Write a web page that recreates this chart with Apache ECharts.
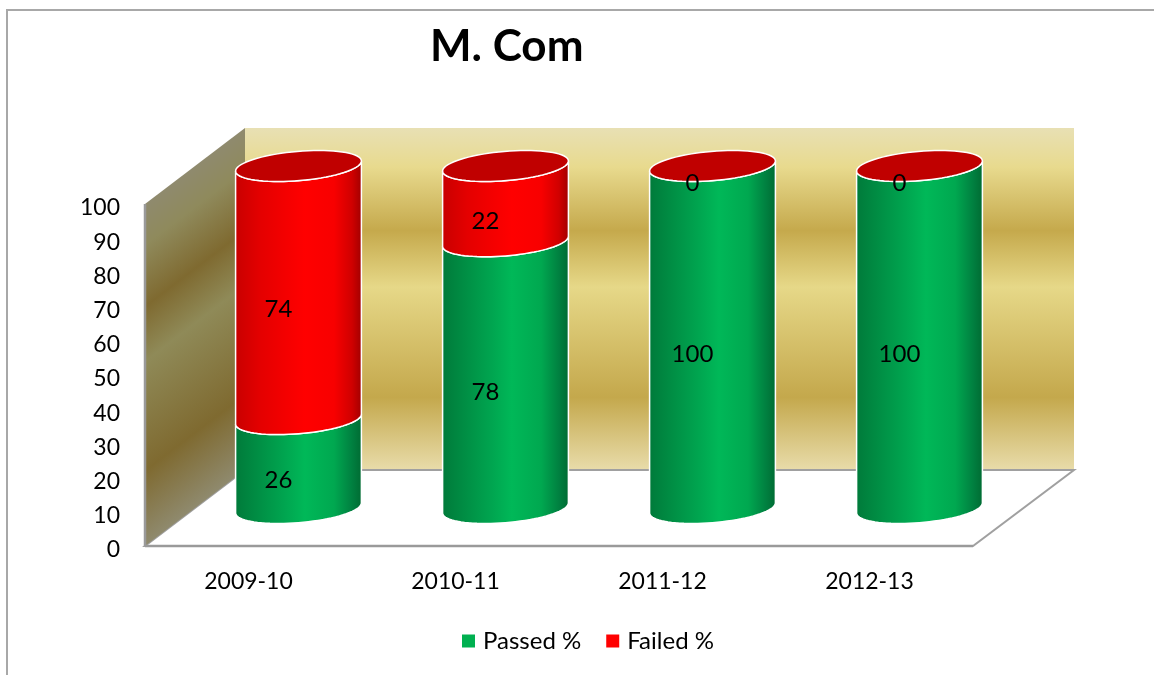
<!DOCTYPE html>
<html>
<head>
<meta charset="utf-8">
<style>html,body{margin:0;padding:0;background:#fff}#c{width:1154px;height:675px}</style>
<script src="https://cdn.jsdelivr.net/npm/echarts@6/dist/echarts.min.js"></script>
</head>
<body>
<div id="c"></div>
<script>
var categories = ['2009-10', '2010-11', '2011-12', '2012-13'];
var passed = [26, 78, 100, 100];
var failed = [74, 22, 0, 0];
var FONT = 'Lato';
var DEPTH = [100, -76];
var R = 59.5, DX = 20.4, DY = 15.5;

function frontArc(cx, cy) {
  var t0 = Math.atan2(DX, R), pts = [];
  for (var i = 0; i <= 40; i++) {
    var t = t0 + Math.PI + Math.PI * i / 40;
    pts.push([cx + R * Math.cos(t) + DX * Math.sin(t), cy - DY * Math.sin(t)]);
  }
  return pts; // left to right, through the front
}
function fullEllipse(cx, cy) {
  var pts = [];
  for (var i = 0; i < 72; i++) {
    var t = i / 72 * Math.PI * 2;
    pts.push([cx + R * Math.cos(t) + DX * Math.sin(t), cy - DY * Math.sin(t)]);
  }
  return pts;
}
function sideGradient(cols) {
  return new echarts.graphic.LinearGradient(0, 0, 1, 0, cols.map(function (s) {
    return {offset: s[0], color: s[1]};
  }));
}
var greenSide = [[0, '#007a3a'], [0.2, '#009045'], [0.4, '#00a650'], [0.55, '#00b858'], [0.78, '#00a850'], [0.92, '#008040'], [1, '#006a32']];
var redSide = [[0, '#c80000'], [0.2, '#e40000'], [0.4, '#f40000'], [0.55, '#ff0000'], [0.78, '#f80000'], [0.92, '#d00000'], [1, '#a00000']];

var cylinderSeries = function (name, values, base, color, sideCols, withCap) {
  return {
    name: name,
    type: 'custom',
    coordinateSystem: 'cartesian2d',
    itemStyle: {color: color},
    z: 5,
    encode: {x: 0, y: 1},
    data: values.map(function (v, i) { return [i, v, base[i]]; }),
    renderItem: function (params, api) {
      var i = api.value(0), v = api.value(1), b = api.value(2);
      var p0 = api.coord([i, b]), p1 = api.coord([i, b + v]);
      var cx = p0[0] + DEPTH[0] / 2, y0 = p0[1] + DEPTH[1] / 2, y1 = p1[1] + DEPTH[1] / 2;
      var kids = [];
      if (v > 0) {
        var low = frontArc(cx, y0), high = frontArc(cx, y1).reverse();
        kids.push({
          type: 'polygon', shape: {points: low.concat(high)},
          style: {fill: sideGradient(sideCols), stroke: '#fff', lineWidth: 1.5}
        });
      }
      if (withCap) {
        kids.push({
          type: 'polygon', shape: {points: fullEllipse(cx, y1)},
          style: {fill: '#c00000', stroke: '#fff', lineWidth: 1.5}
        });
      }
      var mid = api.coord([i, b + v / 2]);
      kids.push({
        type: 'text', z2: 20,
        style: {
          x: mid[0] + DEPTH[0] * 0.3, y: mid[1] + DEPTH[1] * 0.3 + 2,
          text: String(v), fill: '#000', font: '24px ' + FONT,
          align: 'center', verticalAlign: 'middle'
        }
      });
      return {type: 'group', children: kids};
    }
  };
};
var goldStops = [
  [0, '#e8e0b4'], [0.114, '#e8da8e'], [0.30, '#c5a94c'], [0.465, '#e6d888'],
  [0.787, '#c4a84c'], [1, '#e8dcaa']
];
var sideStops = [
  [0, '#8f8a6e'], [0.12, '#8f8a5c'], [0.30, '#7f6a30'], [0.46, '#8f8a58'],
  [0.78, '#7f6a30'], [1, '#8f8a6e']
];
function stops(list) { return list.map(function (s) { return {offset: s[0], color: s[1]}; }); }

var wallSeries = {
  name: 'walls',
  type: 'custom',
  coordinateSystem: 'cartesian2d',
  silent: true,
  z: 1,
  data: [[0, 0]],
  renderItem: function (params, api) {
    var c = params.coordSys, x0 = c.x, x1 = c.x + c.width, yB = c.y + c.height, yT = c.y;
    var dx = DEPTH[0], dy = DEPTH[1];
    var k = (yB - yT) * 100 / (76 * 76 + 100 * 100);
    var side = new echarts.graphic.LinearGradient(x0, yT, x0 + 76 * k, yT + 100 * k, stops(sideStops), true);
    return {type: 'group', children: [
      {type: 'polygon', shape: {points: [[x0 + dx, yT + dy], [x1 + dx + 1, yT + dy], [x1 + dx + 1, yB + dy], [x0 + dx, yB + dy]]},
       style: {fill: new echarts.graphic.LinearGradient(0, 0, 0, 1, stops(goldStops))}},
      {type: 'polygon', shape: {points: [[x0, yB], [x1, yB], [x1 + dx + 1, yB + dy], [x0 + dx, yB + dy]]},
       style: {fill: '#fff', stroke: '#a0a0a0', lineWidth: 2}},
      {type: 'polygon', shape: {points: [[x0, yT], [x0 + dx, yT + dy], [x0 + dx, yB + dy], [x0, yB]]},
       style: {fill: side}},
      {type: 'line', shape: {x1: x0, y1: yT, x2: x0, y2: yB}, style: {stroke: '#9a9a9a', lineWidth: 2.5}},
      {type: 'line', shape: {x1: x0, y1: yB, x2: x1, y2: yB}, style: {stroke: '#9a9a9a', lineWidth: 2.5}}
    ]};
  }
};

var chart = echarts.init(document.getElementById('c'), null, {renderer: 'canvas'});
chart.setOption({
  backgroundColor: '#fff',
  animation: false,
  title: {text: 'M. Com', left: 425, top: 20, textStyle: {fontFamily: FONT, fontWeight: 'bold', fontSize: 44, color: '#000'}},
  grid: {left: 145, right: 181, top: 204, bottom: 129},
  legend: {
    data: ['Passed %', 'Failed %'], left: 457, top: 624, icon: 'rect', itemWidth: 13, itemHeight: 13, itemGap: 25,
    textStyle: {fontFamily: FONT, fontSize: 24, color: '#000', padding: [0, 0, 0, 3]}
  },
  xAxis: {
    type: 'category', data: categories,
    axisLine: {show: false}, axisTick: {show: false},
    axisLabel: {fontFamily: FONT, fontSize: 23, color: '#000', margin: 24}
  },
  yAxis: {
    type: 'value', min: 0, max: 100, interval: 10,
    axisLine: {show: false}, axisTick: {show: false}, splitLine: {show: false},
    axisLabel: {
      margin: 25,
      formatter: '{n|{value}}',
      rich: {n: {fontFamily: FONT, fontSize: 23, color: '#000', padding: [8, 0, 0, 0]}}
    }
  },
  graphic: [
    {type: 'polyline', silent: true, z: 0, shape: {points: [[7, 675], [7, 10], [1154, 10]]}, style: {stroke: '#a8a8a8', fill: 'none', lineWidth: 2}}
  ],
  series: [
    wallSeries,
    cylinderSeries('Passed %', passed, [0, 0, 0, 0], '#00b050', greenSide, false),
    cylinderSeries('Failed %', failed, passed, '#ff0000', redSide, true)
  ]
});
</script>
</body>
</html>
